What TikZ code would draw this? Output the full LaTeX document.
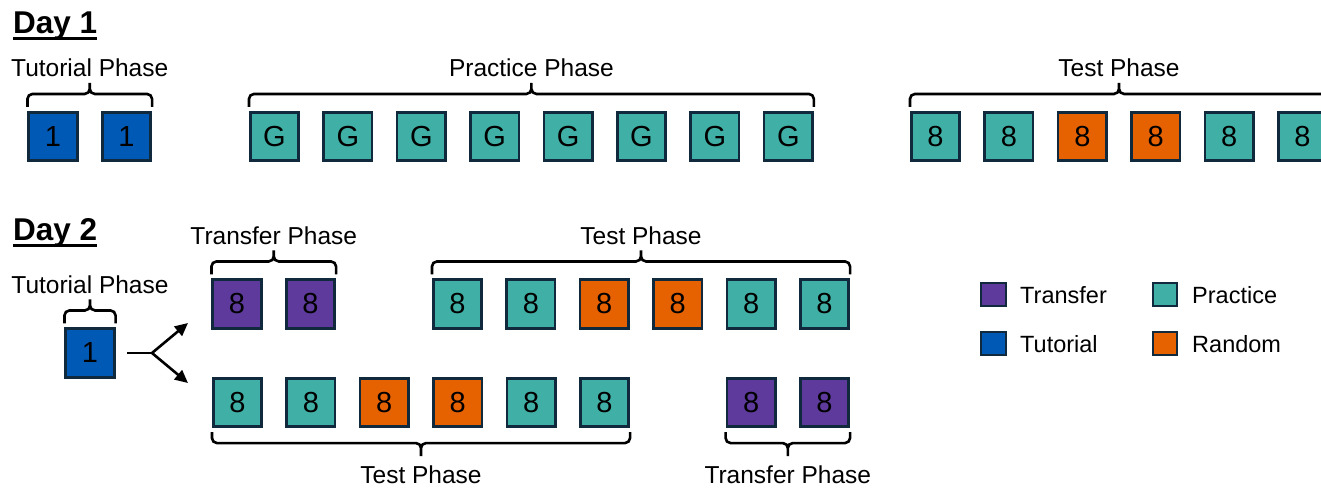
\documentclass[tikz,border=0pt]{standalone}
\usepackage{fontspec}
\setmainfont{Liberation Sans}
\usetikzlibrary{calc,arrows.meta}

\definecolor{tutorialblue}{HTML}{005AB5}
\definecolor{practiceteal}{HTML}{40B0A6}
\definecolor{randomorange}{HTML}{E66100}
\definecolor{transferpurple}{HTML}{5D3A9B}
\definecolor{edgenavy}{HTML}{10293D}

\tikzset{
  trial/.style={draw=edgenavy, line width=2.6pt, minimum size=48.5pt, inner sep=0pt,
                font=\fontsize{29}{32}\selectfont},
  tut/.style={trial, fill=tutorialblue},
  prac/.style={trial, fill=practiceteal},
  rand/.style={trial, fill=randomorange},
  xfer/.style={trial, fill=transferpurple},
  key/.style={draw=edgenavy, line width=2.4pt, minimum width=24.5pt, minimum height=23pt, inner sep=0pt},
  keytext/.style={anchor=base west, inner sep=0pt, font=\fontsize{23.5}{28}\selectfont},
  phase/.style={anchor=base, inner sep=0pt, font=\fontsize{24.5}{29}\selectfont},
  bracepen/.style={line width=2.6pt, rounded corners=5pt},
  daytitle/.style={anchor=base west, inner sep=0pt, font=\bfseries\fontsize{31.5}{35}\selectfont},
  underpen/.style={line width=3pt},
  flowpen/.style={line width=2.6pt},
  flow/.style={flowpen, -{Triangle[length=13pt,width=12pt]}},
}

% curly bracket above a row of trials, from node #1 to node #2, labelled #3
\newcommand\phaseabove[3]{%
  \draw[bracepen] let \p1=(#1.north west), \p2=(#2.north east), \n1={0.5*\x1+0.5*\x2} in
    (\x1,\y1+4pt) -- (\x1,\y1+17pt) -- (\n1,\y1+17pt) -- (\n1,\y1+28pt)
    (\x2,\y1+4pt) -- (\x2,\y1+17pt) -- (\n1,\y1+17pt) -- (\n1,\y1+28pt)
    node[phase] at (\n1,\y1+34pt) {#3};%
}
% curly bracket below a row of trials
\newcommand\phasebelow[3]{%
  \draw[bracepen] let \p1=(#1.south west), \p2=(#2.south east), \n1={0.5*\x1+0.5*\x2} in
    (\x1,\y1-4pt) -- (\x1,\y1-15pt) -- (\n1,\y1-15pt) -- (\n1,\y1-28pt)
    (\x2,\y1-4pt) -- (\x2,\y1-15pt) -- (\n1,\y1-15pt) -- (\n1,\y1-28pt)
    node[phase] at (\n1,\y1-55pt) {#3};%
}

\begin{document}
\begin{tikzpicture}[x=1pt,y=-1pt]
\useasboundingbox (0,0) rectangle (1321,490);
\clip (0,0) rectangle (1321,490);

% ---------------- Day 1 ----------------
\node[daytitle] (day1) at (13,33) {Day 1};
\draw[underpen] ([yshift=-5pt]day1.base west) -- ([yshift=-5pt]day1.base east);

\node[tut] (a1) at (53,136.5) {1};
\node[tut] (a2) at (126.5,136.5) {1};
\phaseabove{a1}{a2}{Tutorial Phase}

\foreach \i [evaluate=\i as \xx using 274.5+73.4*(\i-1)] in {1,...,8}
  \node[prac] (g\i) at (\xx,136.5) {G};
\phaseabove{g1}{g8}{Practice Phase}

\node[prac] (t1) at (935.5,136.5) {8};
\node[prac] (t2) at (1008.9,136.5) {8};
\node[rand] (t3) at (1082.3,136.5) {8};
\node[rand] (t4) at (1155.7,136.5) {8};
\node[prac] (t5) at (1229.1,136.5) {8};
\node[prac] (t6) at (1302.5,136.5) {8};
\phaseabove{t1}{t6}{Test Phase}

% ---------------- Day 2 ----------------
\node[daytitle] (day2) at (13,240) {Day 2};
\draw[underpen] ([yshift=-5pt]day2.base west) -- ([yshift=-5pt]day2.base east);

\node[tut] (b0) at (90,353) {1};
\phaseabove{b0}{b0}{Tutorial Phase}

% order A: transfer first, then test
\node[xfer] (u1) at (237,304) {8};
\node[xfer] (u2) at (310.5,304) {8};
\phaseabove{u1}{u2}{Transfer Phase}

\node[prac] (v1) at (457.5,304) {8};
\node[prac] (v2) at (530.9,304) {8};
\node[rand] (v3) at (604.3,304) {8};
\node[rand] (v4) at (677.7,304) {8};
\node[prac] (v5) at (751.1,304) {8};
\node[prac] (v6) at (824.5,304) {8};
\phaseabove{v1}{v6}{Test Phase}

% order B: test first, then transfer
\node[prac] (w1) at (237.5,402.5) {8};
\node[prac] (w2) at (310.9,402.5) {8};
\node[rand] (w3) at (384.3,402.5) {8};
\node[rand] (w4) at (457.7,402.5) {8};
\node[prac] (w5) at (531.1,402.5) {8};
\node[prac] (w6) at (604.5,402.5) {8};
\phasebelow{w1}{w6}{Test Phase}

\node[xfer] (z1) at (751.1,402.5) {8};
\node[xfer] (z2) at (824.5,402.5) {8};
\phasebelow{z1}{z2}{Transfer Phase}

% split into the two orders
\coordinate (src) at (127,353);
\coordinate (fork) at (152,353);
\coordinate (upA) at (188,323);
\coordinate (upB) at (188,383);
\draw[flowpen] (src) -- (fork);
\draw[flow] (fork) -- (upA);
\draw[flow] (fork) -- (upB);

% ---------------- legend ----------------
\node[key, fill=transferpurple] (k1) at (993.5,294.5) {};
\node[keytext] (k1t) at (1020,303) {Transfer};
\node[key, fill=tutorialblue] (k2) at (993.5,343.5) {};
\node[keytext] (k2t) at (1020,352.5) {Tutorial};
\node[key, fill=practiceteal] (k3) at (1165,294.5) {};
\node[keytext] (k3t) at (1192,303) {Practice};
\node[key, fill=randomorange] (k4) at (1165,343.5) {};
\node[keytext] (k4t) at (1192,352.5) {Random};
\end{tikzpicture}
\end{document}
